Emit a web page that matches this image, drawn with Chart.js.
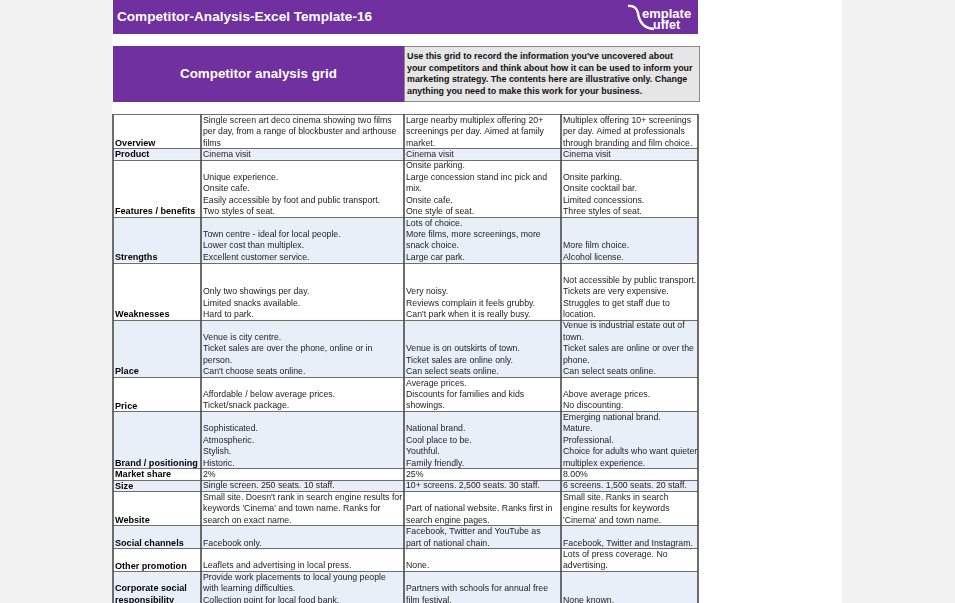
<!DOCTYPE html>
<html>
<head>
<meta charset="utf-8">
<title>Competitor analysis grid</title>
<script src="https://cdn.jsdelivr.net/npm/chart.js@4.4.1/dist/chart.umd.min.js"></script>
<style>
  body { margin: 0; width: 955px; height: 603px; overflow: hidden; background: #f2f2f2;
         font-family: "Liberation Sans", Arial, sans-serif; }
  .page { position: absolute; left: 112px; top: 0; width: 730px; height: 603px; background: #fff; }
  .banner { position: absolute; left: 113px; top: 0; width: 585px; height: 34px; background: #7030a0; }
  .banner .title { position: absolute; left: 4px; top: 0; line-height: 34px; color: #fff;
                   font-weight: bold; font-size: 13.6px; }
  .banner svg { position: absolute; left: 0; top: 0; }
  .head-left { position: absolute; left: 113px; top: 46px; width: 291px; height: 56px; background: #7030a0;
               color: #fff; font-weight: bold; font-size: 13.4px; line-height: 56px; text-align: center; }
  .head-right { position: absolute; left: 404px; top: 46px; width: 292px; height: 50px; background: #e6e6e6;
                border: 1px solid #8a8a8a; font-weight: bold; font-size: 8.9px; line-height: 11.6px;
                padding: 4px 0 0 2px; box-sizing: content-box; color: #111; white-space: pre; }
  #grid { position: absolute; left: 111px; top: 112px; }
</style>
</head>
<body>
<div class="page"></div>
<div class="banner">
  <div class="title">Competitor-Analysis-Excel Template-16</div>
  <svg width="585" height="34">
    <path d="M515,6 Q523,5 525,13 Q527,28 541,29" stroke="#fff" stroke-width="2.4" fill="none"/>
    <text x="529" y="18" fill="#fff" font-family="Liberation Sans, Arial" font-weight="bold" font-size="13">emplate</text>
    <text x="540" y="29" fill="#fff" font-family="Liberation Sans, Arial" font-weight="bold" font-size="12.5">uffet</text>
  </svg>
</div>
<div class="head-left">Competitor analysis grid</div>
<div class="head-right">Use this grid to record the information you've uncovered about
your competitors and think about how it can be used to inform your
marketing strategy. The contents here are illustrative only. Change
anything you need to make this work for your business.</div>
<canvas id="grid" width="590" height="493"></canvas>
<script>
// Grid content: one entry per row, each entry is the lines of text in that cell
const rowLabels = [
  ["Overview"], ["Product"], ["Features / benefits"], ["Strengths"], ["Weaknesses"],
  ["Place"], ["Price"], ["Brand / positioning"], ["Market share"], ["Size"],
  ["Website"], ["Social channels"], ["Other promotion"], ["Corporate social", "responsibility", ""]
];

const competitor1 = [
  ["Single screen art deco cinema showing two films", "per day, from a range of blockbuster and arthouse", "films"],
  ["Cinema visit"],
  ["Unique experience.", "Onsite cafe.", "Easily accessible by foot and public transport.", "Two styles of seat."],
  ["Town centre - ideal for local people.", "Lower cost than multiplex.", "Excellent customer service."],
  ["Only two showings per day.", "Limited snacks available.", "Hard to park."],
  ["Venue is city centre.", "Ticket sales are over the phone, online or in", "person.", "Can't choose seats online."],
  ["Affordable / below average prices.", "Ticket/snack package."],
  ["Sophisticated.", "Atmospheric.", "Stylish.", "Historic."],
  ["2%"],
  ["Single screen. 250 seats. 10 staff."],
  ["Small site. Doesn't rank in search engine results for", "keywords 'Cinema' and town name. Ranks for", "search on exact name."],
  ["Facebook only."],
  ["Leaflets and advertising in local press."],
  ["Provide work placements to local young people", "with learning difficulties.", "Collection point for local food bank.", ""]
];

const competitor2 = [
  ["Large nearby multiplex offering 20+", "screenings per day. Aimed at family", "market."],
  ["Cinema visit"],
  ["Onsite parking.", "Large concession stand inc pick and", "mix.", "Onsite cafe.", "One style of seat."],
  ["Lots of choice.", "More films, more screenings, more", "snack choice.", "Large car park."],
  ["Very noisy.", "Reviews complain it feels grubby.", "Can't park when it is really busy."],
  ["Venue is on outskirts of town.", "Ticket sales are online only.", "Can select seats online."],
  ["Average prices.", "Discounts for families and kids", "showings."],
  ["National brand.", "Cool place to be.", "Youthful.", "Family friendly."],
  ["25%"],
  ["10+ screens. 2,500 seats. 30 staff."],
  ["Part of national website. Ranks first in", "search engine pages."],
  ["Facebook, Twitter and YouTube as", "part of national chain."],
  ["None."],
  ["Partners with schools for annual free", "film festival.", ""]
];

const competitor3 = [
  ["Multiplex offering 10+ screenings", "per day. Aimed at professionals", "through branding and film choice."],
  ["Cinema visit"],
  ["Onsite parking.", "Onsite cocktail bar.", "Limited concessions.", "Three styles of seat."],
  ["More film choice.", "Alcohol license."],
  ["", "Not accessible by public transport.", "Tickets are very expensive.", "Struggles to get staff due to", "location."],
  ["Venue is industrial estate out of", "town.", "Ticket sales are online or over the", "phone.", "Can select seats online."],
  ["Above average prices.", "No discounting."],
  ["Emerging national brand.", "Mature.", "Professional.", "Choice for adults who want quieter", "multiplex experience."],
  ["8.00%"],
  ["6 screens. 1,500 seats. 20 staff."],
  ["Small site. Ranks in search", "engine results for keywords", "'Cinema' and town name."],
  ["Facebook, Twitter and Instagram."],
  ["Lots of press coverage. No", "advertising."],
  ["None known.", ""]
];

const columns = [rowLabels, competitor1, competitor2, competitor3];

// layout: column edges in x-axis units, rows measured in text lines
const colEdges = [0, 88, 291, 448, 585];
const lineHeight = 11.43;
const visibleLines = 489 / lineHeight;
const bandColor = "#e9eff9";
const font = '"Liberation Sans", Arial, sans-serif';

// row start/height in lines, taken from the tallest cell in each row
const rows = [];
let start = 0;
rowLabels.forEach((_, r) => {
  const h = Math.max(...columns.map((col) => col[r].length));
  rows.push({ start: start, lines: h });
  start += h;
});

const gridPlugin = {
  id: "gridTable",
  afterDatasetsDraw(chart) {
    const ctx = chart.ctx;
    const x = chart.scales.x;
    const y = chart.scales.y;
    const left = x.getPixelForValue(colEdges[0]);
    const right = x.getPixelForValue(colEdges[colEdges.length - 1]);
    ctx.save();

    // row bands
    rows.forEach((row, r) => {
      if (r % 2 === 1) {
        const top = y.getPixelForValue(row.start);
        const bottom = y.getPixelForValue(row.start + row.lines);
        ctx.fillStyle = bandColor;
        ctx.fillRect(left, top, right - left, bottom - top);
      }
    });

    // cell text, bottom aligned like the spreadsheet
    ctx.textBaseline = "middle";
    ctx.textAlign = "left";
    columns.forEach((col, c) => {
      ctx.font = (c === 0 ? "bold 9.1px " : "8.75px ") + font;
      ctx.fillStyle = c === 0 ? "#000" : "#222";
      const tx = x.getPixelForValue(colEdges[c]) + 2;
      col.forEach((cell, r) => {
        const row = rows[r];
        const first = row.start + row.lines - cell.length;
        cell.forEach((line, i) => {
          ctx.fillText(line, tx, y.getPixelForValue(first + i + 0.55));
        });
      });
    });

    // horizontal rules
    ctx.strokeStyle = "#6e6e6e";
    ctx.lineWidth = 1;
    rows.forEach((row) => {
      const py = Math.round(y.getPixelForValue(row.start)) + 0.5;
      ctx.beginPath();
      ctx.moveTo(left, py);
      ctx.lineTo(right, py);
      ctx.stroke();
    });

    // vertical rules
    ctx.strokeStyle = "#4a4a4a";
    ctx.lineWidth = 1.6;
    colEdges.forEach((edge) => {
      const px = Math.round(x.getPixelForValue(edge));
      ctx.beginPath();
      ctx.moveTo(px, y.getPixelForValue(0));
      ctx.lineTo(px, y.getPixelForValue(visibleLines));
      ctx.stroke();
    });
    ctx.restore();
  },
};

new Chart(document.getElementById("grid").getContext("2d"), {
  type: "scatter",
  data: { datasets: [] },
  options: {
    responsive: false,
    animation: false,
    layout: { padding: { left: 2, right: 3, top: 2, bottom: 2 } },
    scales: {
      x: { type: "linear", min: colEdges[0], max: colEdges[colEdges.length - 1], display: false },
      y: { type: "linear", min: 0, max: visibleLines, reverse: true, display: false },
    },
    plugins: { legend: { display: false }, tooltip: { enabled: false } },
  },
  plugins: [gridPlugin],
});
</script>
</body>
</html>
